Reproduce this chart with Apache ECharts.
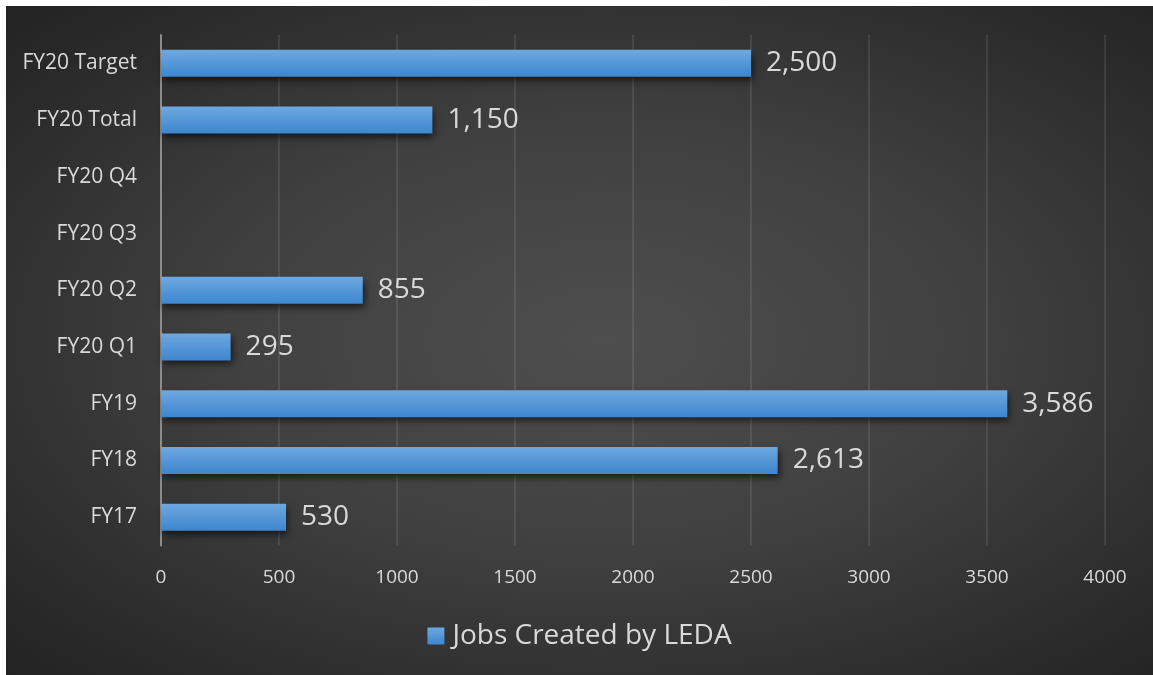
<!DOCTYPE html>
<html><head><meta charset="utf-8">
<script src="https://cdn.jsdelivr.net/npm/echarts@6/dist/echarts.min.js"></script>
<style>
html,body{margin:0;padding:0;background:#fff;width:1153px;height:675px;overflow:hidden;}
#bg{position:absolute;left:6px;top:6px;width:1147px;height:669px;
background:radial-gradient(ellipse farthest-corner at 52% 50%, #4e4e4e 0%, #404040 45%, #2a2a2a 85%, #232323 100%);}
#c{position:absolute;left:6px;top:6px;width:1147px;height:669px;}
</style></head>
<body><div id="bg"></div><div id="c"></div>
<script>
const categories = ['FY17','FY18','FY19','FY20 Q1','FY20 Q2','FY20 Q3','FY20 Q4','FY20 Total','FY20 Target'];
const jobs = [530, 2613, 3586, 295, 855, null, null, 1150, 2500];
const seriesName = 'Jobs Created by LEDA';
const xTicks = [0, 500, 1000, 1500, 2000, 2500, 3000, 3500, 4000];

const font = '"Open Sans", sans-serif';
const chart = echarts.init(document.getElementById('c'), null, {renderer:'canvas'});
chart.setOption({
  backgroundColor: 'transparent',
  animation: false,
  textStyle: {fontFamily: font},
  grid: {left: 155, right: 48, top: 29, bottom: 129.5, containLabel: false},
  legend: {
    data: [seriesName], bottom: 20, left: 'center',
    icon: 'rect', itemWidth: 17, itemHeight: 17, itemGap: 6,
    textStyle: {color: '#d9d9d9', fontSize: 28, fontFamily: font, padding: [0,0,0,3]}
  },
  xAxis: {
    type: 'value', min: xTicks[0], max: xTicks[xTicks.length-1], interval: 500,
    axisLine: {show: false}, axisTick: {show: false},
    splitLine: {show: true, lineStyle: {color: 'rgba(255,255,255,0.09)', width: 2}},
    axisLabel: {color: '#d9d9d9', fontSize: 19, margin: 23, fontFamily: font,
      formatter: v => String(v)}
  },
  yAxis: {
    type: 'category', data: categories,
    axisLine: {show: true, lineStyle: {color: '#8c8c8c', width: 2}},
    axisTick: {show: false},
    axisLabel: {color: '#d9d9d9', fontSize: 21, margin: 24, fontFamily: font}
  },
  series: [{
    name: seriesName, type: 'bar', data: jobs, barWidth: 27,
    itemStyle: {
      color: new echarts.graphic.LinearGradient(0,0,0,1,[{offset:0,color:'#6ea8e0'},{offset:1,color:'#3d86cf'}]),
      shadowColor: 'rgba(0,0,0,0.6)', shadowBlur: 7, shadowOffsetX: 2, shadowOffsetY: 4
    },
    label: {
      show: true, position: 'right', distance: 15, color: '#d9d9d9', fontSize: 28, fontFamily: font,
      formatter: p => p.value == null ? '' : Number(p.value).toLocaleString('en-US')
    }
  }]
});
</script></body></html>
